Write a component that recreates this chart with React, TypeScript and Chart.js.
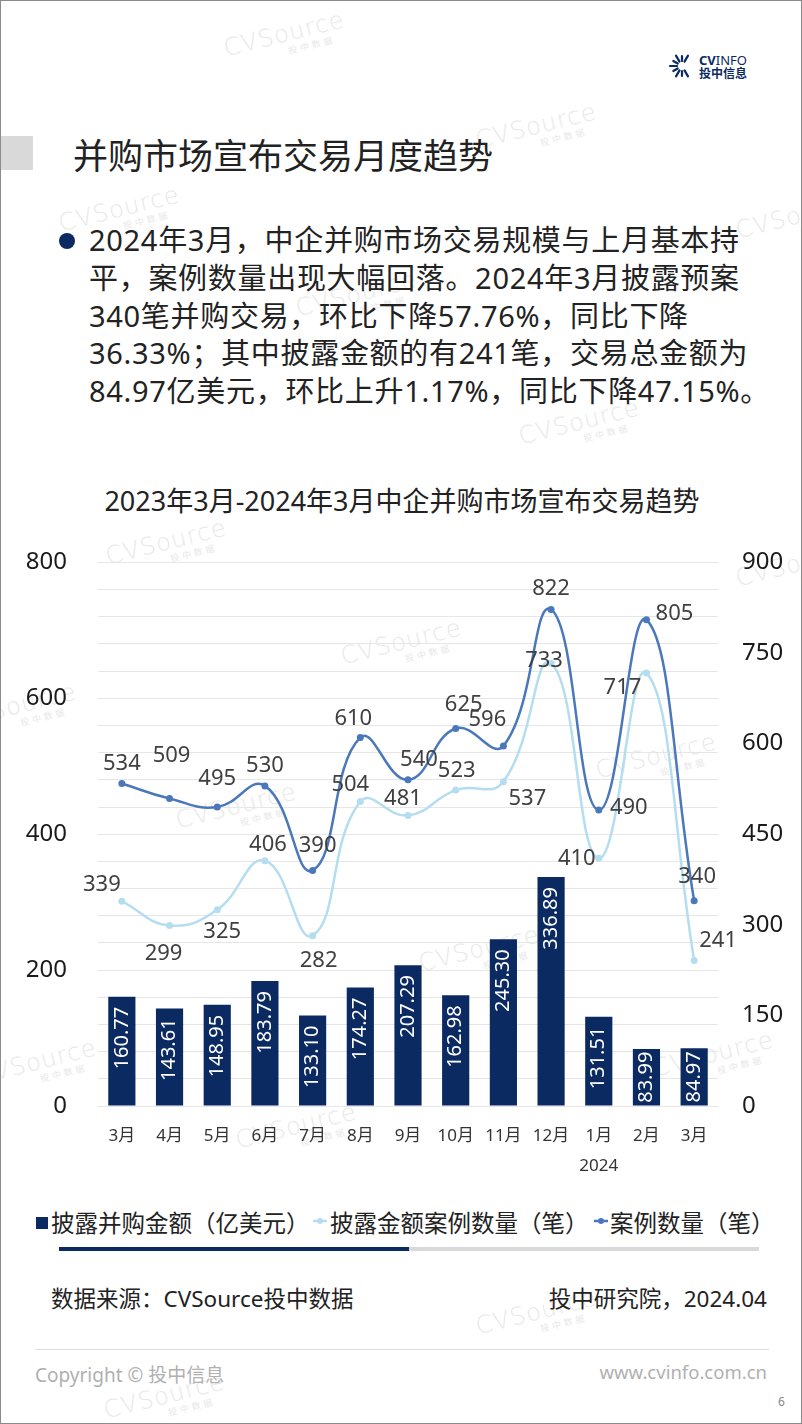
import React, { useEffect, useRef } from 'react';
import { Chart, registerables } from 'chart.js';

Chart.register(...registerables);

// ---------- data ----------
const categories: (string | string[])[] = ['3月', '4月', '5月', '6月', '7月', '8月', '9月', '10月', '11月', '12月', ['1月', '2024'], '2月', '3月'];
const amounts = [160.77, 143.61, 148.95, 183.79, 133.1, 174.27, 207.29, 162.98, 245.3, 336.89, 131.51, 83.99, 84.97];
const disclosedCounts = [339, 299, 325, 406, 282, 504, 481, 523, 537, 733, 410, 717, 241];
const totalCounts = [534, 509, 495, 530, 390, 610, 540, 625, 596, 822, 490, 805, 340];
const leftTickLabels = [0, 200, 400, 600, 800];
const rightTickLabels = [0, 150, 300, 450, 600, 750, 900];

const seriesNames = ['披露并购金额（亿美元）', '披露金额案例数量（笔）', '案例数量（笔）'];

// label offsets (pixels from point) — style only
const lightOffsets = [[-20, -17], [-6, 28], [5, 22], [3, -16], [6, 25], [-10, -17], [-5, -17], [1, -19], [24, 17], [-7, -3], [-22, 0], [-24, 15], [24, -20]];
const darkOffsets = [[0, -20], [2, -43], [0, -28], [0, -20], [5, -25], [-7, -19], [11, -20], [8, -24], [-16, -26], [0, -21], [30, -2], [28, -6], [3, -24]];

const FONT = '"Noto Sans", "Noto Sans CJK SC", sans-serif';
const NAVY = '#0c2a62';
const DARK = '#4a78ba';
const LIGHT = '#b5ddf0';

const labelPlugin = {
  id: 'customLabels',
  afterDatasetsDraw(chart: any) {
    const ctx = chart.ctx;
    ctx.save();
    // bar labels
    const barMeta = chart.getDatasetMeta(0);
    ctx.font = `20px ${FONT}`;
    ctx.fillStyle = '#ffffff';
    barMeta.data.forEach((el: any, i: number) => {
      const p = el.getProps(['x', 'y', 'base'], true);
      const text = amounts[i].toFixed(2);
      const tw = ctx.measureText(text).width;
      const h = p.base - p.y;
      const pad = Math.max(2, Math.min(10, (h - tw) / 2));
      ctx.save();
      ctx.translate(p.x, p.y + pad);
      ctx.rotate(-Math.PI / 2);
      ctx.textAlign = 'right';
      ctx.textBaseline = 'middle';
      ctx.fillText(text, 0, 0);
      ctx.restore();
    });
    // line labels
    ctx.font = `22px ${FONT}`;
    ctx.fillStyle = '#404040';
    ctx.textAlign = 'center';
    ctx.textBaseline = 'middle';
    const sets: [number, number[], number[][]][] = [
      [1, disclosedCounts, lightOffsets],
      [2, totalCounts, darkOffsets],
    ];
    sets.forEach(([idx, values, offs]) => {
      const meta = chart.getDatasetMeta(idx);
      meta.data.forEach((el: any, i: number) => {
        const p = el.getProps(['x', 'y'], true);
        ctx.fillText(String(values[i]), p.x + offs[i][0], p.y + offs[i][1]);
      });
    });
    ctx.restore();
  },
};

function ChartBlock() {
  const ref = useRef<HTMLCanvasElement | null>(null);
  useEffect(() => {
    if (!ref.current) return;
    const chart = new Chart(ref.current, {
      type: 'bar',
      data: {
        labels: categories as any,
        datasets: [
          {
            type: 'bar',
            label: seriesNames[0],
            data: amounts,
            backgroundColor: NAVY,
            yAxisID: 'y',
            order: 3,
            barPercentage: 0.57,
            categoryPercentage: 1,
          } as any,
          {
            type: 'line',
            label: seriesNames[1],
            data: disclosedCounts,
            borderColor: LIGHT,
            backgroundColor: LIGHT,
            yAxisID: 'y1',
            tension: 0.45,
            borderWidth: 2.5,
            pointRadius: 3.5,
            pointBackgroundColor: LIGHT,
            pointBorderWidth: 0,
            order: 2,
          } as any,
          {
            type: 'line',
            label: seriesNames[2],
            data: totalCounts,
            borderColor: DARK,
            backgroundColor: DARK,
            yAxisID: 'y1',
            tension: 0.45,
            borderWidth: 2.5,
            pointRadius: 3.5,
            pointBackgroundColor: DARK,
            pointBorderWidth: 0,
            order: 1,
          } as any,
        ],
      },
      options: {
        responsive: false,
        animation: false,
        layout: { padding: { top: 0, bottom: 0, left: 0, right: 0 } },
        plugins: { legend: { display: false }, tooltip: { enabled: false } },
        scales: {
          x: {
            grid: { display: false, drawTicks: false },
            border: { display: false },
            ticks: {
              color: '#333333',
              font: { family: FONT, size: 17, lineHeight: 30 / 17 } as any,
              padding: 15,
              maxRotation: 0,
              autoSkip: false,
            },
            afterFit: (s: any) => { s.height = 85; },
          },
          y: {
            position: 'left',
            min: 0,
            max: leftTickLabels[leftTickLabels.length - 1],
            grid: { color: '#e6e6e6', lineWidth: 1, drawTicks: false },
            border: { display: false },
            ticks: {
              stepSize: 40,
              autoSkip: false,
              padding: 31,
              color: '#1a1a1a',
              font: { family: FONT, size: 24 },
              callback: (v: any) => (leftTickLabels.includes(Number(v)) ? String(v) : ''),
            },
            afterFit: (s: any) => { s.width = 97; },
          },
          y1: {
            position: 'right',
            min: 0,
            max: rightTickLabels[rightTickLabels.length - 1],
            grid: { display: false, drawTicks: false },
            border: { display: false },
            ticks: {
              stepSize: 150,
              autoSkip: false,
              padding: 24,
              color: '#1a1a1a',
              font: { family: FONT, size: 24 },
            },
            afterFit: (s: any) => { s.width = 85; },
          },
        },
      } as any,
      plugins: [labelPlugin],
    });
    return () => chart.destroy();
  }, []);
  return <canvas ref={ref} width={802} height={674} style={{ display: 'block', width: 802, height: 674 }} />;
}

function Watermark({ x, y }: { x: number; y: number }) {
  return (
    <div style={{ position: 'absolute', left: x - 60, top: y - 20, width: 120, height: 40, transform: 'rotate(-14deg)', pointerEvents: 'none', color: '#e8e8e8' }}>
      <div style={{ fontFamily: '"DejaVu Sans", sans-serif', fontSize: 24, fontWeight: 200, letterSpacing: 1, lineHeight: '26px', whiteSpace: 'nowrap' }}>CVSource</div>
      <div style={{ fontSize: 9, lineHeight: '10px', marginLeft: 62, letterSpacing: 3, whiteSpace: 'nowrap' }}>投中数据</div>
    </div>
  );
}

const watermarks = [
  [283, 40], [535, 132], [118, 215], [795, 222], [355, 300], [578, 428], [165, 548], [400, 648],
  [15, 712], [235, 812], [655, 762], [478, 955], [35, 1068], [712, 1060], [295, 1132], [535, 1318], [163, 1402], [795, 570],
];

function Logo() {
  const rays = [];
  const cx = 681, cy = 65;
  for (let i = 0; i < 9; i++) {
    const a = (60 + i * 30) * Math.PI / 180;
    const r1 = 5, r2 = i % 2 === 0 ? 12 : 10;
    rays.push(<line key={i} x1={cx + r1 * Math.cos(a)} y1={cy - r1 * Math.sin(a)} x2={cx + r2 * Math.cos(a)} y2={cy - r2 * Math.sin(a)} stroke={NAVY} strokeWidth={2.2} strokeLinecap="round" />);
  }
  return (
    <>
      <svg style={{ position: 'absolute', left: 0, top: 0 }} width={802} height={100}>{rays}</svg>
      <div style={{ position: 'absolute', left: 698, top: 52, fontSize: 13, lineHeight: '15px', color: NAVY, fontFamily: '"Noto Sans", sans-serif', whiteSpace: 'nowrap' }}>
        <span style={{ fontWeight: 700 }}>CV</span><span style={{ fontWeight: 400 }}>INFO</span>
      </div>
      <div style={{ position: 'absolute', left: 698, top: 65, fontSize: 12, lineHeight: '14px', color: NAVY, fontWeight: 700, fontFamily: '"Noto Sans CJK SC", sans-serif', whiteSpace: 'nowrap' }}>投中信息</div>
    </>
  );
}

const bulletLines = [
  '2024年3月，中企并购市场交易规模与上月基本持',
  '平，案例数量出现大幅回落。2024年3月披露预案',
  '340笔并购交易，环比下降57.76%，同比下降',
  '36.33%；其中披露金额的有241笔，交易总金额为',
  '84.97亿美元，环比上升1.17%，同比下降47.15%。',
];

export default function App() {
  const abs = (o: any): React.CSSProperties => ({ position: 'absolute', whiteSpace: 'nowrap', ...o });
  return (
    <div style={{ position: 'absolute', left: 0, top: 0, width: 802, height: 1424, boxSizing: 'border-box', border: '1px solid #8c8c8c', background: '#fff', overflow: 'hidden', fontFamily: FONT, color: '#222' }}>
      {watermarks.map(([x, y], i) => <Watermark key={i} x={x} y={y} />)}
      <Logo />
      <div style={abs({ left: -1, top: 135, width: 33, height: 34, background: '#d9d9d9' })} />
      <div style={abs({ left: 72, top: 130, fontSize: 35, lineHeight: '50px', color: '#222' })}>并购市场宣布交易月度趋势</div>

      <div style={abs({ left: 58, top: 232, width: 16, height: 16, borderRadius: 8, background: NAVY })} />
      {bulletLines.map((t, i) => (
        <div key={i} style={abs({ left: 88, top: 220 + i * 37.75, fontSize: 29, lineHeight: '38px', letterSpacing: 0.7, color: '#222' })}>{t}</div>
      ))}

      <div style={abs({ left: 0, width: 802, top: 484, textAlign: 'center', fontSize: 27, lineHeight: '32px', color: '#222' })}>2023年3月-2024年3月中企并购市场宣布交易趋势</div>

      <div style={{ position: 'absolute', left: 0, top: 516 }}>
        <ChartBlock />
      </div>

      {/* legend */}
      <div style={abs({ left: 35, top: 1216, width: 12, height: 12, background: NAVY })} />
      <div style={abs({ left: 50, top: 1205, fontSize: 23.5, lineHeight: '34px', color: '#222' })}>{seriesNames[0]}</div>
      <svg style={{ position: 'absolute', left: 311, top: 1214 }} width={16} height={12}>
        <line x1={1} y1={6} x2={15} y2={6} stroke={LIGHT} strokeWidth={2.5} />
        <circle cx={8} cy={6} r={3} fill={LIGHT} />
      </svg>
      <div style={abs({ left: 329, top: 1205, fontSize: 23.5, lineHeight: '34px', color: '#222' })}>{seriesNames[1]}</div>
      <svg style={{ position: 'absolute', left: 592, top: 1214 }} width={16} height={12}>
        <line x1={1} y1={6} x2={15} y2={6} stroke={DARK} strokeWidth={2.5} />
        <circle cx={8} cy={6} r={3} fill={DARK} />
      </svg>
      <div style={abs({ left: 609, top: 1205, fontSize: 23.5, lineHeight: '34px', color: '#222' })}>{seriesNames[2]}</div>

      {/* progress bar */}
      <div style={abs({ left: 58, top: 1246, width: 350, height: 4, background: NAVY })} />
      <div style={abs({ left: 408, top: 1246, width: 350, height: 4, background: '#d9d9d9' })} />

      <div style={abs({ left: 50, top: 1282, fontSize: 22.5, lineHeight: '32px', color: '#222' })}>数据来源：CVSource投中数据</div>
      <div style={abs({ right: 34, top: 1282, fontSize: 22.5, lineHeight: '32px', color: '#222' })}>投中研究院，2024.04</div>

      <div style={abs({ left: 34, top: 1348, width: 734, height: 1, background: '#e0e0e0' })} />
      <div style={abs({ left: 34, top: 1360, fontSize: 19, lineHeight: '28px', color: '#b0b0b0' })}>Copyright © 投中信息</div>
      <div style={abs({ right: 34, top: 1357, fontSize: 18.5, lineHeight: '28px', color: '#b0b0b0' })}>www.cvinfo.com.cn</div>
      <div style={abs({ left: 777, top: 1393, fontSize: 12, lineHeight: '16px', color: '#888' })}>6</div>
    </div>
  );
}
